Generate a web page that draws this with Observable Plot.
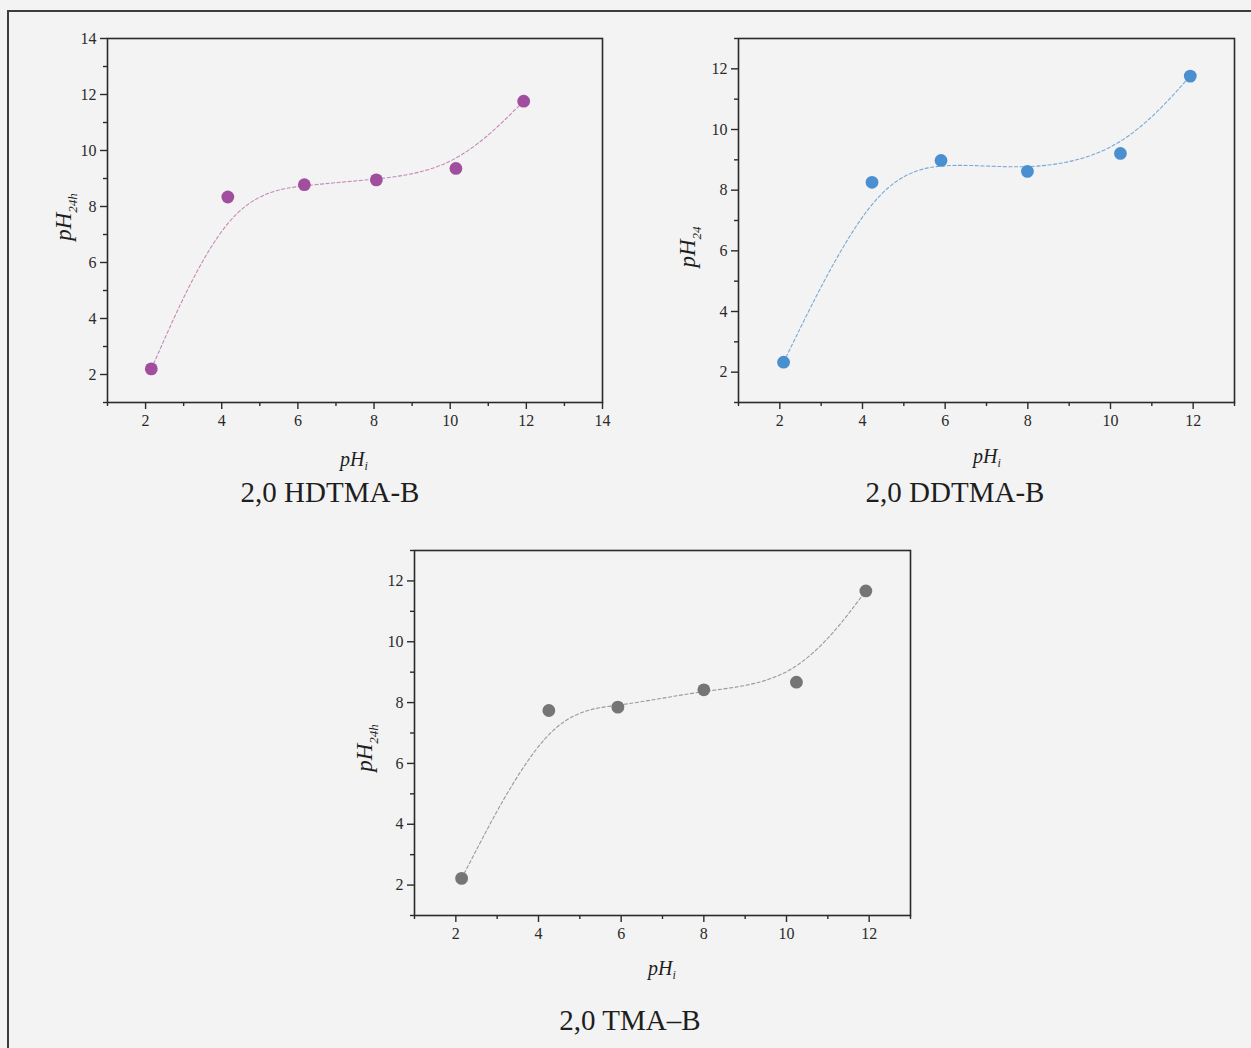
<!DOCTYPE html>
<html>
<head>
<meta charset="utf-8">
<script src="https://cdn.jsdelivr.net/npm/d3@7"></script>
<script src="https://cdn.jsdelivr.net/npm/@observablehq/plot@0.6"></script>
<style>
  html, body { margin: 0; padding: 0; background: #f3f3f3; }
  #page { position: relative; width: 1251px; height: 1048px; overflow: hidden; background: #f3f3f3;
          font-family: "Liberation Serif", "Times New Roman", serif; }
  #border { position: absolute; left: 7px; top: 10px; width: 1400px; height: 1200px;
            border-left: 2px solid #3c3c3c; border-top: 2px solid #3c3c3c; }
  .chart { position: absolute; }
  .title { position: absolute; font-size: 29px; line-height: 29px; color: #1e1e1e; white-space: nowrap;
           transform: translateX(-50%); font-family: "Liberation Serif", "Times New Roman", serif; }
</style>
</head>
<body>
<div id="page"><div id="border"></div></div>
<script>
// ---- Data ----
// 2,0 HDTMA-B
const phInitial1 = [2.15, 4.16, 6.17, 8.06, 10.15, 11.93];
const ph24_1     = [2.20, 8.34, 8.78, 8.95, 9.36, 11.76];
// 2,0 DDTMA-B
const phInitial2 = [2.09, 4.23, 5.90, 7.99, 10.24, 11.93];
const ph24_2     = [2.33, 8.26, 8.98, 8.62, 9.21, 11.76];
// 2,0 TMA–B
const phInitial3 = [2.14, 4.25, 5.92, 8.00, 10.24, 11.92];
const ph24_3     = [2.22, 7.74, 7.85, 8.42, 8.67, 11.67];

const titles = ["2,0 HDTMA-B", "2,0 DDTMA-B", "2,0 TMA–B"];
const ySubs = ["24h", "24", "24h"];
const xTicks14 = [2, 4, 6, 8, 10, 12, 14];
const xMinor14 = [1, 3, 5, 7, 9, 11, 13];
const xTicks13 = [2, 4, 6, 8, 10, 12];
const xMinor13 = [1, 3, 5, 7, 9, 11, 13];
const yTicks14 = [2, 4, 6, 8, 10, 12, 14];
const yMinor14 = [1, 3, 5, 7, 9, 11, 13];
const yTicks13 = [2, 4, 6, 8, 10, 12];
const yMinor13 = [1, 3, 5, 7, 9, 11, 13];

const FONT = '"Liberation Serif", "Times New Roman", serif';
const ML = 60, MT = 20, MR = 20, MB = 90;
const TICKFS = "16px";

function makeChart(cfg) {
  const data = cfg.xs.map((x, i) => ({x, y: cfg.ys[i]}));
  const width = ML + cfg.plotW + MR;
  const height = MT + cfg.plotH + MB;
  const svg = Plot.plot({
    width, height,
    marginLeft: ML, marginTop: MT, marginRight: MR, marginBottom: MB,
    x: {domain: cfg.xDomain},
    y: {domain: cfg.yDomain},
    style: {background: "transparent", fontFamily: FONT, fontSize: TICKFS, color: "#2a2a2a", overflow: "visible"},
    marks: [
      Plot.axisX(cfg.xTicks, {anchor: "bottom", tickSize: 7, tickPadding: 5, label: null, stroke: "#2a2a2a", strokeWidth: 1.4, fill: "#2a2a2a"}),
      Plot.axisX(cfg.xMinor, {anchor: "bottom", tickSize: 4, tickFormat: () => "", label: null, stroke: "#2a2a2a", strokeWidth: 1.4}),
      Plot.axisY(cfg.yTicks, {anchor: "left", tickSize: 7, tickPadding: 4, label: null, stroke: "#2a2a2a", strokeWidth: 1.4, fill: "#2a2a2a"}),
      Plot.axisY(cfg.yMinor, {anchor: "left", tickSize: 4, tickFormat: () => "", label: null, stroke: "#2a2a2a", strokeWidth: 1.4}),
      Plot.frame({stroke: "#2a2a2a", strokeWidth: 1.6}),
      Plot.line(data, {x: "x", y: "y", curve: "basis", stroke: cfg.lineColor, strokeWidth: 1.1, strokeDasharray: "3.2,2.4"}),
      Plot.dot(data, {x: "x", y: "y", r: 6.4, fill: cfg.dotColor, stroke: "none"})
    ]
  });
  const s = d3.select(svg);
  s.selectAll('g[aria-label$="tick label"]').attr("font-size", TICKFS).style("font-size", TICKFS).attr("fill", "#2a2a2a");
  s.selectAll('g[aria-label$="tick label"] text').style("font-size", TICKFS);
  // y-axis label pH with subscript
  const yl = s.append("text")
    .attr("transform", `translate(${cfg.yLab[0] - cfg.left},${cfg.yLab[1] - cfg.top}) rotate(-90)`)
    .attr("text-anchor", "middle")
    .attr("fill", "#1e1e1e")
    .style("font-family", FONT).style("font-style", "italic").style("font-size", "23px");
  yl.append("tspan").text("pH");
  yl.append("tspan").attr("dy", 6).style("font-size", "13px").text(cfg.ySub);
  // x-axis label pH_i
  const xl = s.append("text")
    .attr("x", cfg.xLab[0] - cfg.left).attr("y", cfg.xLab[1] - cfg.top)
    .attr("text-anchor", "middle")
    .attr("fill", "#1e1e1e")
    .style("font-family", FONT).style("font-style", "italic").style("font-size", "20px");
  xl.append("tspan").text("pH");
  xl.append("tspan").attr("dy", 4).style("font-size", "12px").text("i");

  svg.classList.add("chart");
  svg.style.left = cfg.left + "px";
  svg.style.top = cfg.top + "px";
  document.getElementById("page").appendChild(svg);

  const t = document.createElement("div");
  t.className = "title";
  t.textContent = cfg.title;
  t.style.left = cfg.titlePos[0] + "px";
  t.style.top = cfg.titlePos[1] + "px";
  document.getElementById("page").appendChild(t);
}

makeChart({
  xs: phInitial1, ys: ph24_1, xDomain: [1, 14], yDomain: [1, 14],
  xTicks: xTicks14, xMinor: xMinor14, yTicks: yTicks14, yMinor: yMinor14,
  left: 107 - ML, top: 38 - MT, plotW: 495, plotH: 364,
  dotColor: "#a24e9f", lineColor: "#c58ab6", ySub: ySubs[0],
  yLab: [71, 217], xLab: [354, 466], title: titles[0], titlePos: [330, 478]
});
makeChart({
  xs: phInitial2, ys: ph24_2, xDomain: [1, 13], yDomain: [1, 13],
  xTicks: xTicks13, xMinor: xMinor13, yTicks: yTicks13, yMinor: yMinor13,
  left: 738 - ML, top: 38 - MT, plotW: 496, plotH: 364,
  dotColor: "#4a8fd0", lineColor: "#7ba8d6", ySub: ySubs[1],
  yLab: [695, 247], xLab: [987, 463], title: titles[1], titlePos: [955, 478]
});
makeChart({
  xs: phInitial3, ys: ph24_3, xDomain: [1, 13], yDomain: [1, 13],
  xTicks: xTicks13, xMinor: xMinor13, yTicks: yTicks13, yMinor: yMinor13,
  left: 414 - ML, top: 550 - MT, plotW: 496, plotH: 365,
  dotColor: "#757575", lineColor: "#9a9a9a", ySub: ySubs[2],
  yLab: [372, 748], xLab: [662, 975], title: titles[2], titlePos: [630, 1006]
});
</script>
</body>
</html>
